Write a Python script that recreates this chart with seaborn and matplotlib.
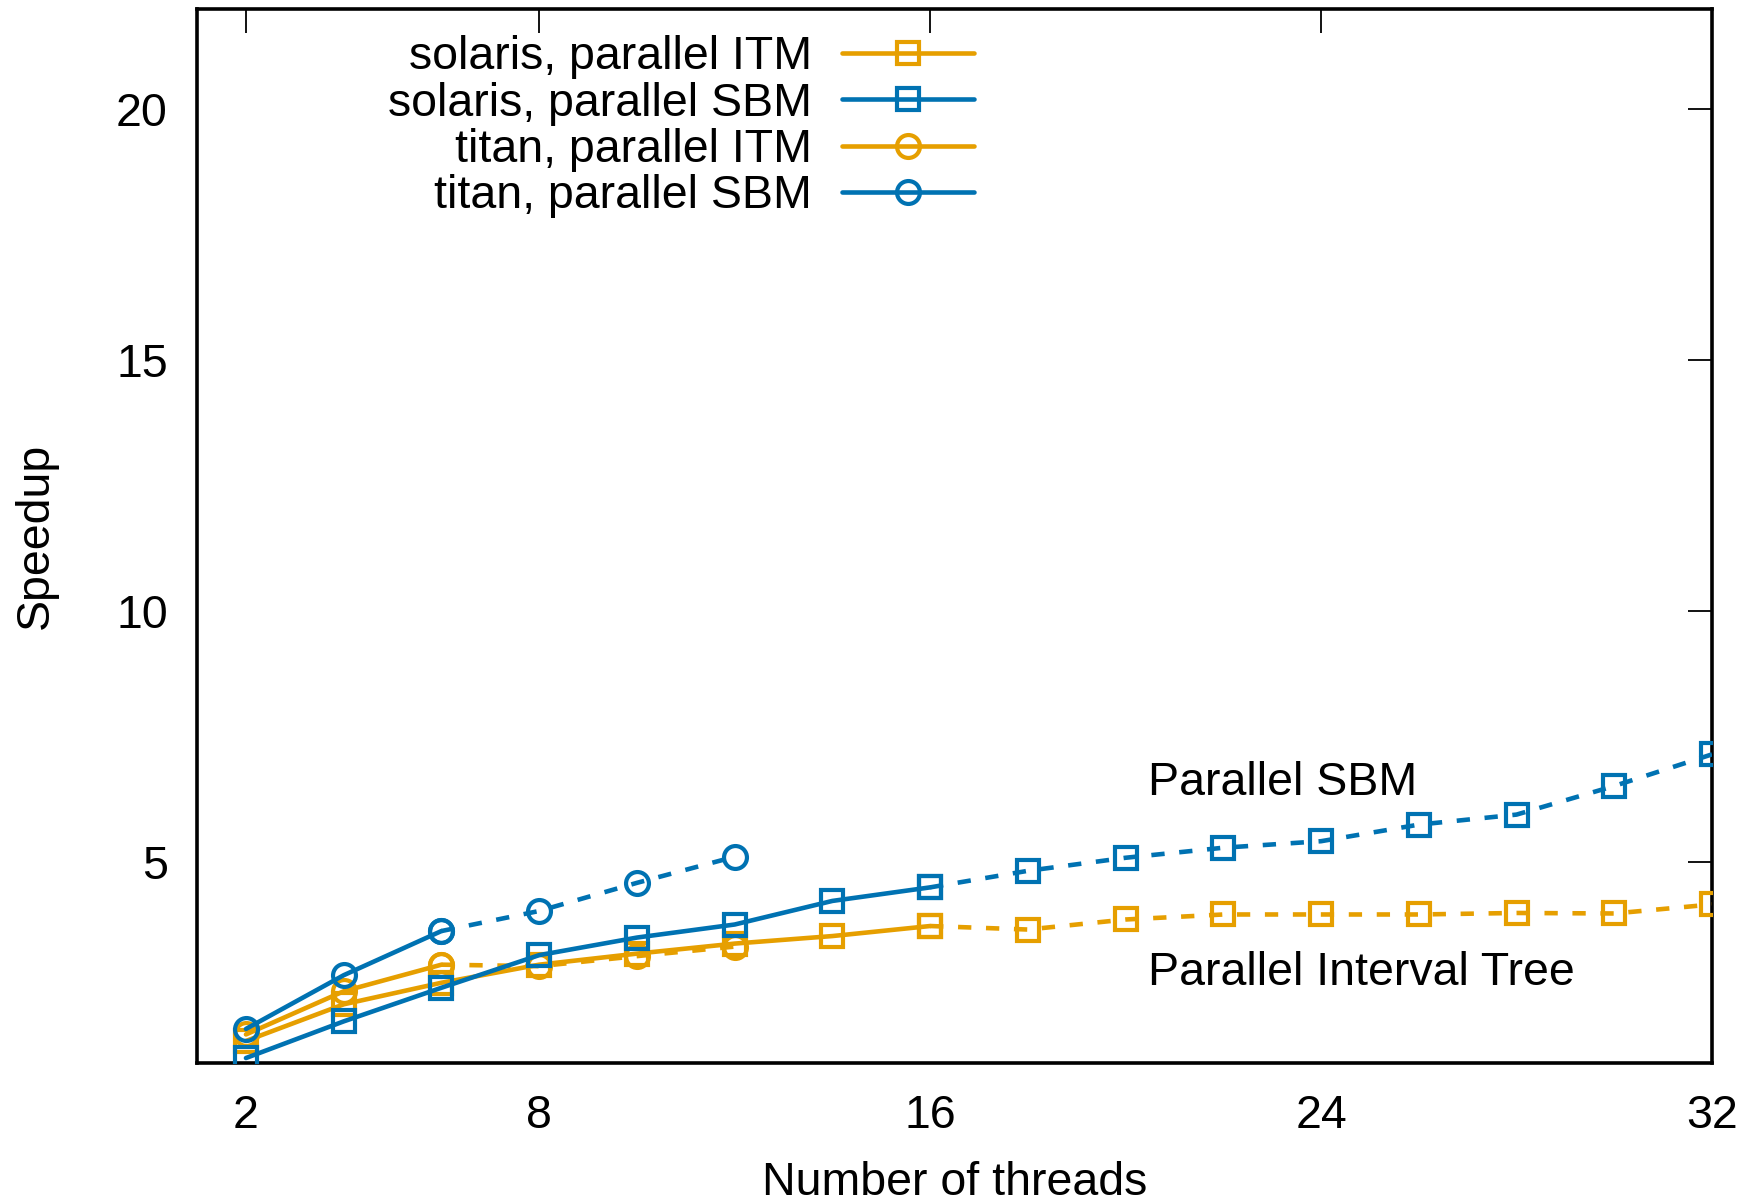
import numpy as np
import pandas as pd
import seaborn as sns
import matplotlib
matplotlib.use("Agg")
import matplotlib.pyplot as plt
from matplotlib.lines import Line2D

sns.set_theme(style="white")
plt.rcParams['font.family'] = ['Liberation Sans', 'DejaVu Sans']
plt.rcParams['text.color'] = 'black'
plt.rcParams['axes.labelcolor'] = 'black'
plt.rcParams['xtick.color'] = 'black'
plt.rcParams['ytick.color'] = 'black'

ORANGE = "#E69F00"
BLUE = "#0072B2"

# solaris (2..32 threads); solid up to 16, dashed after
solaris_threads = [2, 4, 6, 8, 10, 12, 14, 16, 18, 20, 22, 24, 26, 28, 30, 32]
solaris_itm = [1.44, 2.17, 2.60, 2.96, 3.18, 3.38, 3.53, 3.73, 3.66, 3.86, 3.96, 3.96, 3.96, 3.99, 3.98, 4.16]
solaris_sbm = [1.10, 1.83, 2.50, 3.15, 3.50, 3.76, 4.23, 4.50, 4.83, 5.09, 5.29, 5.42, 5.75, 5.95, 6.52, 7.15]

# titan (2..12 threads); solid up to 6, dashed after
titan_threads = [2, 4, 6, 8, 10, 12]
titan_itm = [1.57, 2.43, 2.96, 2.93, 3.13, 3.32]
titan_sbm = [1.68, 2.75, 3.63, 4.03, 4.59, 5.11]

labels = ["solaris, parallel ITM", "solaris, parallel SBM",
          "titan, parallel ITM", "titan, parallel SBM"]

FS = 33.5

fig = plt.figure(figsize=(17.55, 12.02), dpi=100)
ax = fig.add_axes([0.1123, 0.1156, 0.8632, 0.8769])

LW = 3.3
MS = 16.5
MEW = 3.0

def draw(xs, ys, split, color, marker):
    xs = np.array(xs); ys = np.array(ys)
    solid = xs <= split
    dashed = xs >= split
    sns.lineplot(x=xs[solid], y=ys[solid], ax=ax, color=color, lw=LW,
                 marker=marker, ms=MS, mew=MEW, mfc="none", mec=color,
                 estimator=None, sort=False, zorder=3)
    sns.lineplot(x=xs[dashed], y=ys[dashed], ax=ax, color=color, lw=LW,
                 marker=marker, ms=MS, mew=MEW, mfc="none", mec=color,
                 estimator=None, sort=False, zorder=3, dashes=False,
                 linestyle=(0, (2.9, 3.2)))

draw(titan_threads, titan_itm, 6, ORANGE, "o")
draw(solaris_threads, solaris_itm, 16, ORANGE, "s")
draw(solaris_threads, solaris_sbm, 16, BLUE, "s")
draw(titan_threads, titan_sbm, 6, BLUE, "o")

ax.set_xlim(1, 32)
ax.set_ylim(1, 22)
ax.set_xticks([2, 8, 16, 24, 32])
ax.set_yticks([5, 10, 15, 20])
ax.tick_params(axis="both", which="both", direction="in", length=17, width=1.3,
               top=True, right=True, labelsize=FS, colors="black")
ax.tick_params(axis="x", pad=22)
ax.tick_params(axis="y", pad=21)
for s in ax.spines.values():
    s.set_visible(True)
    s.set_color("black")
    s.set_linewidth(2.6)

ax.set_xlabel("Number of threads", fontsize=FS, labelpad=17)
ax.set_ylabel("Speedup", fontsize=FS, labelpad=42)

ax.text(20.45, 6.58, "Parallel SBM", fontsize=FS, va="center", ha="left")
ax.text(20.45, 2.80, "Parallel Interval Tree", fontsize=FS, va="center", ha="left")

handles = [
    Line2D([], [], color=ORANGE, lw=LW, marker="s", ms=MS, mew=MEW, mfc="none"),
    Line2D([], [], color=BLUE, lw=LW, marker="s", ms=MS, mew=MEW, mfc="none"),
    Line2D([], [], color=ORANGE, lw=LW, marker="o", ms=MS, mew=MEW, mfc="none"),
    Line2D([], [], color=BLUE, lw=LW, marker="o", ms=MS, mew=MEW, mfc="none"),
]
leg = ax.legend(handles, labels, loc="upper right", bbox_to_anchor=(0.513, 0.975),
                markerfirst=False, frameon=False, fontsize=FS,
                handlelength=2.84, handletextpad=0.65, labelspacing=0.05,
                borderaxespad=0.0, borderpad=0.0)

fig.savefig("out.png", dpi=100)
